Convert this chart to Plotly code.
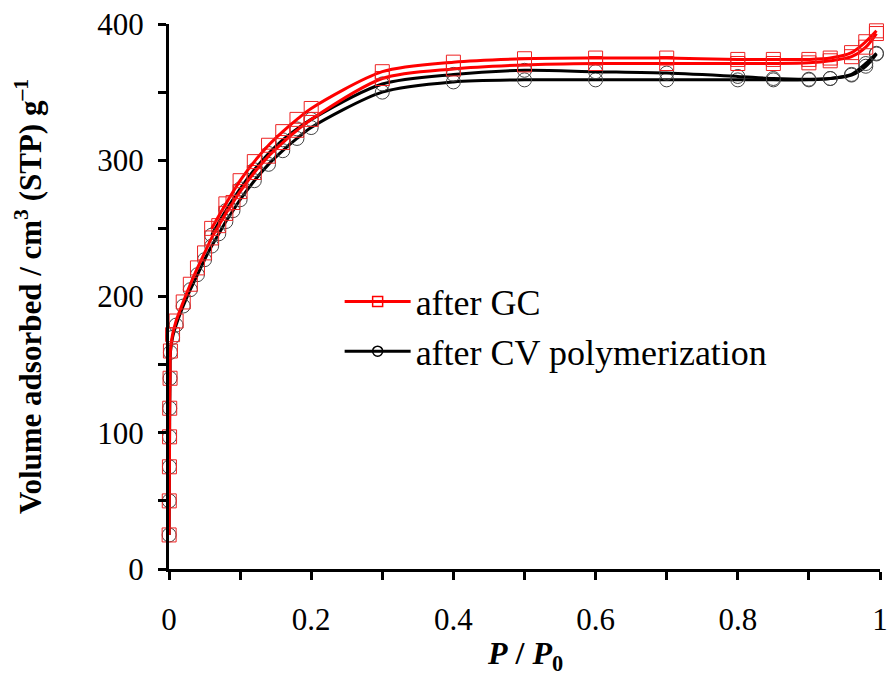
import plotly.graph_objects as go

# ---- data ----
gc_ads_x = [0.0002, 0.0004, 0.0006, 0.0008, 0.001, 0.0015, 0.002, 0.005, 0.01, 0.02, 0.03, 0.04, 0.05,
            0.06, 0.07, 0.08, 0.09, 0.10, 0.12, 0.14, 0.16, 0.18, 0.20, 0.30, 0.40, 0.50, 0.60,
            0.70, 0.80, 0.85, 0.90, 0.93, 0.96, 0.98, 0.995]
gc_ads_y = [25, 50, 75, 97, 118, 140, 160, 172, 182, 196, 209, 221, 232,
            243, 252, 261, 269, 277, 291, 303, 313, 322, 330, 360, 367, 370, 371,
            371, 371, 371, 371.5, 373, 376, 383, 393]
gc_des_x = [0.995, 0.98, 0.96, 0.93, 0.90, 0.85, 0.80, 0.70, 0.60, 0.50, 0.40, 0.30,
            0.20, 0.18, 0.16, 0.14, 0.12, 0.10, 0.08, 0.06]
gc_des_y = [395, 387, 379, 375, 374, 374, 374, 375, 375, 374.5, 372, 365,
            338, 330, 321, 311, 299, 285, 268, 250]

cv_ads_x = [0.0002, 0.0004, 0.0006, 0.0008, 0.001, 0.0015, 0.002, 0.005, 0.01, 0.02, 0.03, 0.04, 0.05,
            0.06, 0.07, 0.08, 0.09, 0.10, 0.12, 0.14, 0.16, 0.18, 0.20, 0.30, 0.40, 0.50, 0.60,
            0.70, 0.80, 0.85, 0.90, 0.93, 0.96, 0.98, 0.995]
cv_ads_y = [25, 50, 75, 97, 118, 140, 159, 170, 179, 193, 205, 216, 227,
            237, 246, 255, 263, 271, 285, 297, 307, 316, 324, 350, 357.5, 359, 359,
            359, 359, 359, 359, 360, 362.5, 369, 378]
cv_des_x = [0.995, 0.98, 0.96, 0.93, 0.90, 0.85, 0.80, 0.70, 0.60, 0.50, 0.40, 0.30,
            0.20, 0.18, 0.16, 0.14, 0.12, 0.10, 0.08, 0.06]
cv_des_y = [378.5, 371, 363, 360, 359.5, 360, 361.5, 364, 365, 366, 363, 356,
            330, 323, 315, 305, 293, 279, 263, 245]

x_ticks = [0, 0.2, 0.4, 0.6, 0.8, 1]
x_tick_text = ["0", "0.2", "0.4", "0.6", "0.8", "1"]
y_ticks = [0, 100, 200, 300, 400]

series_names = ["after GC", "after CV polymerization"]
x_title = "<b><i>P</i> / <i>P</i><sub>0</sub></b>"
y_title = "<b>Volume adsorbed / cm<sup>3</sup> (STP) g<sup>–1</sup></b>"

FONT = "Liberation Serif, Times New Roman, Times, serif"
RED = "#ff0000"
BLK = "#000000"

fig = go.Figure()

def add(x, y, color, symbol, mcolor, name, show):
    fig.add_trace(go.Scatter(
        x=x, y=y, mode="lines+markers", name=name, showlegend=show,
        legendgroup=name, cliponaxis=False,
        line=dict(color=color, width=3, shape="spline", smoothing=0.8),
        marker=dict(symbol=symbol, size=14, color=mcolor, line=dict(width=1, color=mcolor)),
    ))

add(cv_ads_x, cv_ads_y, BLK, "circle-open", "#444444", series_names[1], False)
add(cv_des_x, cv_des_y, BLK, "circle-open", "#444444", series_names[1], False)
add(gc_ads_x, gc_ads_y, RED, "square-open", "#ee2222", series_names[0], False)
add(gc_des_x, gc_des_y, RED, "square-open", "#ee2222", series_names[0], False)

# legend entries
fig.add_trace(go.Scatter(x=[None], y=[None], mode="lines+markers", name=series_names[0],
                         line=dict(color=RED, width=3),
                         marker=dict(symbol="square-open", size=10, color=RED, line=dict(width=1.5))))
fig.add_trace(go.Scatter(x=[None], y=[None], mode="lines+markers", name=series_names[1],
                         line=dict(color=BLK, width=3),
                         marker=dict(symbol="circle-open", size=10, color=BLK, line=dict(width=1.5))))

fig.update_layout(
    width=887, height=675,
    margin=dict(l=169, r=7, t=24, b=106, autoexpand=False),
    paper_bgcolor="white", plot_bgcolor="white",
    font=dict(family=FONT, color="black", size=31),
    showlegend=True,
    legend=dict(x=0.24, y=0.445, xanchor="left", yanchor="middle",
                font=dict(family=FONT, size=36, color="black"),
                bgcolor="rgba(0,0,0,0)", itemwidth=66, tracegroupgap=0),
    xaxis=dict(range=[0, 1], tickvals=x_ticks, ticktext=x_tick_text, automargin=False,
               showgrid=False, zeroline=False, showline=True, linecolor="black", linewidth=3,
               ticks="outside", ticklen=8, tickwidth=3, tickcolor="black",
               ticklabelstandoff=13, ticklabeloverflow="allow",
               minor=dict(dtick=0.1, ticks="outside", ticklen=8, tickwidth=3, tickcolor="black", showgrid=False),
               tickfont=dict(family=FONT, size=31)),
    yaxis=dict(range=[0, 400], tickvals=y_ticks, automargin=False,
               showgrid=False, zeroline=False, showline=True, linecolor="black", linewidth=3,
               ticks="outside", ticklen=8, tickwidth=3, tickcolor="black",
               ticklabelstandoff=8,
               minor=dict(dtick=50, ticks="outside", ticklen=8, tickwidth=3, tickcolor="black", showgrid=False),
               tickfont=dict(family=FONT, size=31),
               title=dict(text=y_title, standoff=47, font=dict(family=FONT, size=31))),
    annotations=[dict(text=x_title, xref="paper", yref="paper", x=0.5, y=0,
                      xanchor="center", yanchor="middle", yshift=-86, showarrow=False,
                      font=dict(family=FONT, size=32, color="black"))],
)

fig.write_html("out.html")
